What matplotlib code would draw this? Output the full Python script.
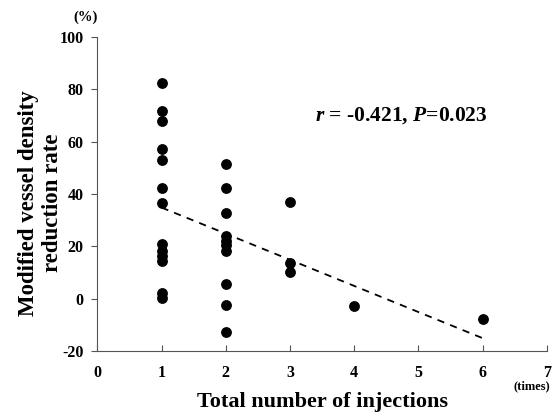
import numpy as np
import matplotlib.pyplot as plt

plt.rcParams['font.family'] = ['Liberation Serif', 'DejaVu Serif']
plt.rcParams['font.weight'] = 'bold'
plt.rcParams['axes.unicode_minus'] = False
plt.rcParams['mathtext.fontset'] = 'custom'
plt.rcParams['mathtext.rm'] = 'Liberation Serif:bold'
plt.rcParams['mathtext.it'] = 'Liberation Serif:italic:bold'
plt.rcParams['mathtext.bf'] = 'Liberation Serif:bold'

# number of injections for each eye and its reduction rate (%)
injections = [1] * 13 + [2] * 10 + [3] * 3 + [4] + [6]
reduction = [82.4, 71.8, 67.9, 57.2, 53.2, 42.4, 36.5, 20.8, 18.3, 16.2, 14.6, 2.2, 0.3,
             51.3, 42.4, 32.6, 23.9, 22.2, 20.6, 18.2, 5.6, -2.3, -12.9,
             36.8, 13.8, 10.1,
             -2.7,
             -7.6]

x_ticks = [0, 1, 2, 3, 4, 5, 6, 7]
y_ticks = [-20, 0, 20, 40, 60, 80, 100]

fig = plt.figure(figsize=(5.53, 4.12), dpi=100)
ax = fig.add_axes([0.176, 0.148, 0.813, 0.762])

ax.scatter(injections, reduction, s=46, color='black', zorder=3)

# regression line over the observed range
x_arr = np.array(injections, dtype=float)
slope, intercept = np.polyfit(x_arr, reduction, 1)
xs = np.array([x_arr.min(), x_arr.max()])
ax.plot(xs, slope * xs + intercept, color='black', lw=1.3, ls=(0, (4, 3.5)))

ax.set_xlim(0, 7)
ax.set_ylim(-20, 100)
ax.set_xticks(x_ticks)
ax.set_yticks(y_ticks)
ax.spines['top'].set_visible(False)
ax.spines['right'].set_visible(False)
ax.spines['left'].set_color('#555555')
ax.spines['bottom'].set_color('#555555')
ax.tick_params(axis='x', direction='in', length=4, pad=10, labelsize=11.5, color='#555555')
ax.tick_params(axis='y', direction='out', length=4, pad=6, labelsize=11.5, color='#555555')
for lab in ax.get_xticklabels() + ax.get_yticklabels():
    lab.set_fontweight('bold')

ax.set_xlabel('Total number of injections', fontsize=16, fontweight='bold')
ax.xaxis.set_label_coords(0.5, -0.13)
ax.set_ylabel('Modified vessel density\nreduction rate', fontsize=16.5, fontweight='bold',
              linespacing=1.22)
ax.yaxis.set_label_coords(-0.076, 0.471)

ax.text(3.39, 68, r'$\mathit{r}$ = -0.421, $\mathit{P}$=0.023', fontsize=15.5,
        fontweight='bold')

fig.text(0.132, 0.95, '(%)', fontsize=10.5, fontweight='bold')
fig.text(0.928, 0.056, '(times)', fontsize=9, fontweight='bold')

fig.savefig('out.png', dpi=100)
